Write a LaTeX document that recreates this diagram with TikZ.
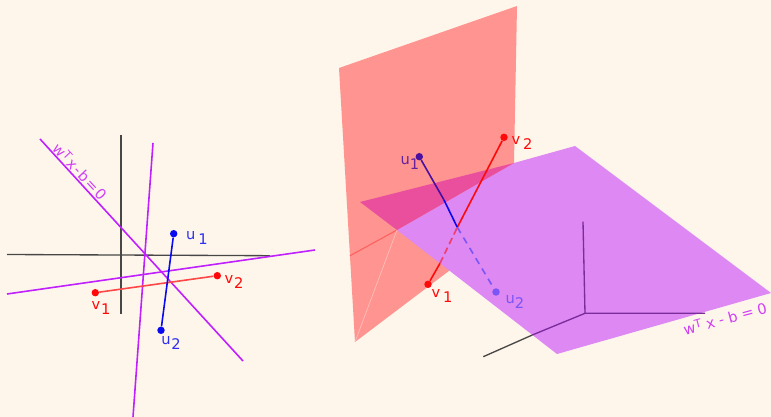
\documentclass[tikz,border=0pt]{standalone}
\usepackage{fontspec}
\setmainfont{DejaVu Sans}
\definecolor{bgc}{HTML}{FFF6EB}
\definecolor{planered}{HTML}{FF9490}
\definecolor{planepur}{HTML}{DD88F3}
\definecolor{planemix}{HTML}{EA4F9E}
\definecolor{pur}{HTML}{C020FF}
\definecolor{lab}{HTML}{D040F5}
\definecolor{redc}{HTML}{FF0A0A}
\definecolor{bluec}{HTML}{0A0AF0}
\definecolor{indigo}{HTML}{4A10A0}
\definecolor{fadeblue}{HTML}{7B55F5}
\definecolor{axdark}{HTML}{7A2C9A}
\newcommand{\lbl}[3][0.2em]{#2\hspace{#1}\raisebox{-0.6ex}{#3}}
\newcommand{\eqn}[1]{w\raisebox{0.45ex}{\fontsize{8.5pt}{9pt}\selectfont T}\hspace{#1}x\hspace{#1}-\hspace{#1}b\hspace{#1}=\hspace{#1}0}
\tikzset{
  px/.style={x=0.75pt,y=-0.75pt},
  axisline/.style={draw=black!72,line width=1pt},
  hyper/.style={draw=pur,line width=1.2pt},
  seg/.style={line width=1.2pt},
  dot/.style={circle,inner sep=0pt,minimum size=5.6pt,fill=#1},
  txt/.style={font=\fontsize{11pt}{13pt}\selectfont,inner sep=0pt,text=#1}
}
\begin{document}
\begin{tikzpicture}[px]
\useasboundingbox[fill=bgc] (0,0) rectangle (771,417);
% left panel
\coordinate (lvt) at (121,135); \coordinate (lvb) at (121,314);
\coordinate (lhl) at (7,254.5); \coordinate (lhr) at (270,255.7);
\coordinate (m1a) at (40,139); \coordinate (m1b) at (243,361);
\coordinate (m2a) at (153,143); \coordinate (m2b) at (133,417);
\coordinate (m3a) at (7,294); \coordinate (m3b) at (315,250);
\draw[axisline] (lvt) -- (lvb);
\draw[axisline] (lhl) -- (lhr);
\draw[hyper] (m1a) -- (m1b);
\draw[hyper] (m2a) -- (m2b);
\draw[hyper] (m3a) -- (m3b);
\node[dot=redc] (v1) at (95.3,292.7) {};
\node[dot=redc] (v2) at (217.3,275.7) {};
\node[dot=bluec] (u1) at (173.7,233.7) {};
\node[dot=bluec] (u2) at (161,330.3) {};
\draw[seg,draw=redc!75] (v1) -- (v2);
\draw[seg,draw=bluec] (u1) -- (u2);
\node[txt=bluec!85] (lu1) at (197,238) {\lbl{u}{1}};
\node[txt=bluec!85] (lu2) at (171,343) {\lbl[0.05em]{u}{2}};
\node[txt=redc] (lv1) at (101,308) {\lbl[0.05em]{v}{1}};
\node[txt=redc] (lv2) at (234,282) {\lbl[0.05em]{v}{2}};
\node[txt=lab,rotate=-47] (leqa) at (80,171.7) {\eqn{0.1em}};
% right panel
\coordinate (ra) at (339,68); \coordinate (rb) at (517,6);
\coordinate (rc) at (514,163); \coordinate (rd) at (470,255);
\coordinate (re) at (355,342); \coordinate (rm) at (397,230);
\coordinate (pa) at (360,202); \coordinate (pb) at (575,146);
\coordinate (pc) at (771,293); \coordinate (pd) at (557,354);
\fill[planered] (ra) -- (rb) -- (rc) -- (rd) -- (re) -- cycle;
\fill[planepur] (rm) -- (rc) -- (pb) -- (pc) -- (pd) -- cycle;
\fill[planemix] (pa) -- (rc) -- (rm) -- cycle;
\coordinate (fa) at (350,255.7);
\draw[draw=red!35!planered,line width=0.8pt] (fa) -- (rm);
\draw[draw=planered!60!white,line width=0.5pt] (re) -- (rm);
% axes
\coordinate (ao) at (585,313.3); \coordinate (au) at (583,221.7);
\coordinate (ar) at (705,313.3); \coordinate (al) at (483.3,356.7);
\coordinate (ax) at (532.3,335);
\draw[draw=axdark,line width=1pt] (au) -- (ao) -- (ar);
\draw[draw=axdark,line width=1pt] (ao) -- (ax);
\draw[axisline] (ax) -- (al);
% segments
\coordinate (cross) at (457.3,227.3);
\coordinate (um) at (444,200);
\coordinate (vm) at (440,263.3);
\node[dot=redc] (rv1) at (428,284.3) {};
\node[dot=redc] (rv2) at (504,137.3) {};
\node[dot=indigo] (ru1) at (419.3,156.7) {};
\node[dot=fadeblue] (ru2) at (496,292) {};
\draw[seg,draw=redc] (rv2) -- (cross);
\draw[seg,draw=redc] (rv1) -- (vm);
\draw[seg,draw=redc!60!planepur,dash pattern=on 5pt off 3pt] (vm) -- (cross);
\draw[seg,draw=indigo] (ru1) -- (um);
\draw[seg,draw=bluec] (um) -- (cross);
\draw[seg,draw=fadeblue,dash pattern=on 5pt off 4pt] (cross) -- (ru2);
\node[txt=indigo!85!planered] (rlu1) at (410,163) {\lbl[0em]{u}{1}};
\node[txt=fadeblue] (rlu2) at (515,302) {\lbl[0em]{u}{2}};
\node[txt=redc] (rlv1) at (442,295.7) {\lbl{v}{1}};
\node[txt=redc] (rlv2) at (522,143) {\lbl{v}{2}};
\node[txt=lab,rotate=15] (leqb) at (725,318.3) {\eqn{0.3em}};
\end{tikzpicture}
\end{document}
